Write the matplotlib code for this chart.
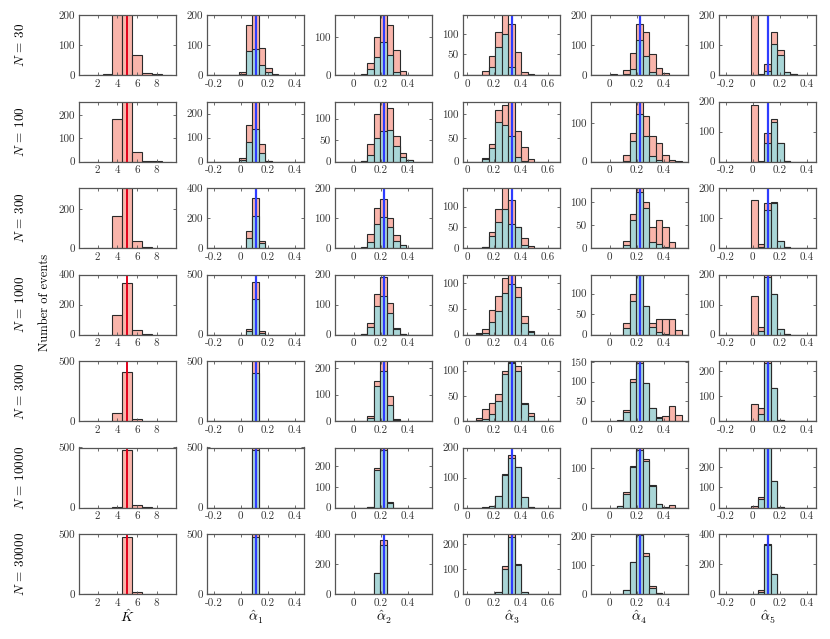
import numpy as np
import matplotlib
matplotlib.use('Agg')
import matplotlib.pyplot as plt
from matplotlib.ticker import MultipleLocator, FuncFormatter

plt.rcParams['font.family'] = 'serif'
plt.rcParams['font.serif'] = ['cmr10']
plt.rcParams['mathtext.fontset'] = 'cm'
plt.rcParams['axes.unicode_minus'] = False

sample_sizes = [30, 100, 300, 1000, 3000, 10000, 30000]
true_K = 5
true_alpha = [0.11, 0.22, 0.33, 0.22, 0.11]
bin_width = 0.048

# estimated K, counts for K = 1..9
K_values = [1, 2, 3, 4, 5, 6, 7, 8, 9]
K_counts = [
    [0, 0, 3, 210, 209, 67, 7, 4, 0],
    [0, 0, 0, 184, 270, 42, 4, 1, 0],
    [0, 0, 0, 165, 305, 35, 3, 0, 0],
    [0, 0, 0, 128, 345, 29, 2, 0, 0],
    [0, 0, 0, 64, 410, 20, 1, 0, 0],
    [0, 0, 0, 5, 478, 17, 1, 0, 0],
    [0, 0, 0, 0, 472, 20, 3, 0, 0],
]

# alpha histograms, 15 bins centred on the true value (bin 7 holds it)
# "all" = every run, "ok" = runs where K was found correctly
alpha1_all = [
    [0, 0, 0, 0, 0, 10, 168, 206, 90, 23, 3, 0, 0, 0, 0],
    [0, 0, 0, 0, 0, 16, 154, 255, 74, 3, 0, 0, 0, 0, 0],
    [0, 0, 0, 0, 0, 3, 116, 334, 50, 0, 0, 0, 0, 0, 0],
    [0, 0, 0, 0, 0, 0, 44, 439, 28, 0, 0, 0, 0, 0, 0],
    [0, 0, 0, 0, 0, 0, 4, 496, 0, 0, 0, 0, 0, 0, 0],
    [0, 0, 0, 0, 0, 0, 0, 498, 0, 0, 0, 0, 0, 0, 0],
    [0, 0, 0, 0, 0, 0, 0, 498, 0, 0, 0, 0, 0, 0, 0],
]
alpha1_ok = [
    [0, 0, 0, 0, 0, 4, 81, 87, 34, 10, 1, 0, 0, 0, 0],
    [0, 0, 0, 0, 0, 8, 83, 134, 37, 2, 0, 0, 0, 0, 0],
    [0, 0, 0, 0, 0, 0, 70, 211, 31, 0, 0, 0, 0, 0, 0],
    [0, 0, 0, 0, 0, 0, 30, 298, 16, 0, 0, 0, 0, 0, 0],
    [0, 0, 0, 0, 0, 0, 3, 400, 0, 0, 0, 0, 0, 0, 0],
    [0, 0, 0, 0, 0, 0, 0, 478, 0, 0, 0, 0, 0, 0, 0],
    [0, 0, 0, 0, 0, 0, 0, 472, 0, 0, 0, 0, 0, 0, 0],
]
alpha2_all = [
    [0, 0, 0, 0, 2, 31, 100, 170, 131, 67, 11, 1, 0, 0, 0],
    [0, 0, 0, 0, 2, 42, 110, 150, 125, 59, 19, 4, 0, 0, 0],
    [0, 0, 0, 0, 2, 48, 134, 164, 101, 45, 9, 0, 0, 0, 0],
    [0, 0, 0, 0, 3, 40, 136, 192, 105, 23, 2, 0, 0, 0, 0],
    [0, 0, 0, 0, 0, 18, 152, 232, 94, 8, 0, 0, 0, 0, 0],
    [0, 0, 0, 0, 0, 4, 190, 295, 25, 0, 0, 0, 0, 0, 0],
    [0, 0, 0, 0, 0, 0, 143, 358, 2, 0, 0, 0, 0, 0, 0],
]
alpha2_ok = [
    [0, 0, 0, 0, 1, 15, 48, 86, 53, 8, 1, 0, 0, 0, 0],
    [0, 0, 0, 0, 1, 16, 56, 72, 74, 36, 10, 3, 0, 0, 0],
    [0, 0, 0, 0, 1, 19, 81, 105, 70, 25, 9, 0, 0, 0, 0],
    [0, 0, 0, 0, 1, 25, 96, 129, 73, 20, 1, 0, 0, 0, 0],
    [0, 0, 0, 0, 0, 13, 132, 190, 60, 3, 0, 0, 0, 0, 0],
    [0, 0, 0, 0, 0, 3, 182, 280, 20, 0, 0, 0, 0, 0, 0],
    [0, 0, 0, 0, 0, 0, 141, 330, 2, 0, 0, 0, 0, 0, 0],
]
alpha3_all = [
    [0, 0, 1, 9, 47, 104, 150, 125, 57, 7, 2, 0, 1, 0, 0],
    [0, 0, 0, 8, 36, 110, 120, 135, 64, 30, 6, 0, 0, 0, 0],
    [0, 0, 0, 3, 39, 95, 166, 115, 50, 25, 6, 1, 0, 0, 0],
    [0, 0, 2, 10, 48, 75, 110, 121, 92, 35, 7, 0, 0, 0, 0],
    [0, 0, 5, 24, 36, 54, 99, 117, 110, 35, 16, 0, 0, 0, 0],
    [0, 0, 0, 2, 6, 39, 112, 175, 134, 34, 3, 0, 0, 0, 0],
    [0, 0, 0, 0, 2, 8, 114, 250, 120, 9, 0, 0, 0, 0, 0],
]
alpha3_ok = [
    [0, 0, 0, 1, 19, 68, 99, 19, 1, 0, 0, 0, 0, 0, 0],
    [0, 0, 0, 6, 28, 84, 78, 53, 10, 2, 0, 0, 0, 0, 0],
    [0, 0, 0, 2, 30, 64, 95, 59, 50, 8, 0, 0, 0, 0, 0],
    [0, 0, 1, 2, 24, 45, 80, 97, 72, 22, 5, 0, 0, 0, 0],
    [0, 0, 1, 3, 14, 39, 93, 116, 99, 34, 10, 0, 0, 0, 0],
    [0, 0, 0, 0, 5, 37, 110, 164, 134, 34, 3, 0, 0, 0, 0],
    [0, 0, 0, 0, 2, 8, 100, 230, 115, 9, 0, 0, 0, 0, 0],
]
alpha4_all = [
    [0, 0, 0, 3, 1, 16, 73, 169, 145, 70, 23, 6, 0, 0, 0],
    [0, 0, 0, 0, 0, 16, 74, 160, 117, 67, 49, 16, 3, 1, 0],
    [0, 0, 0, 0, 0, 16, 73, 144, 100, 46, 61, 45, 14, 0, 0],
    [0, 0, 0, 0, 0, 29, 100, 148, 71, 27, 37, 39, 37, 12, 0],
    [0, 0, 0, 0, 2, 29, 106, 152, 96, 32, 9, 12, 37, 14, 0],
    [0, 0, 0, 0, 4, 39, 104, 155, 122, 56, 9, 2, 7, 0, 0],
    [0, 0, 0, 0, 0, 13, 110, 210, 141, 29, 2, 0, 0, 0, 0],
]
alpha4_ok = [
    [0, 0, 0, 0, 0, 2, 19, 118, 64, 10, 0, 0, 0, 0, 0],
    [0, 0, 0, 0, 0, 2, 54, 123, 65, 14, 5, 0, 0, 0, 0],
    [0, 0, 0, 0, 0, 6, 60, 121, 87, 14, 9, 2, 0, 0, 0],
    [0, 0, 0, 0, 0, 17, 82, 145, 71, 19, 6, 2, 0, 0, 0],
    [0, 0, 0, 0, 1, 22, 99, 146, 96, 32, 7, 0, 0, 0, 0],
    [0, 0, 0, 0, 4, 35, 102, 146, 117, 54, 9, 0, 0, 0, 0],
    [0, 0, 0, 0, 0, 13, 110, 205, 131, 20, 2, 0, 0, 0, 0],
]
alpha5_all = [
    [0, 0, 0, 0, 0, 225, 4, 36, 142, 82, 10, 3, 0, 0, 0],
    [0, 0, 0, 0, 0, 189, 3, 96, 142, 63, 2, 0, 0, 0, 0],
    [0, 0, 0, 0, 0, 160, 13, 150, 154, 23, 2, 0, 0, 0, 0],
    [0, 0, 0, 0, 0, 127, 24, 205, 134, 18, 1, 0, 0, 0, 0],
    [0, 0, 0, 0, 0, 68, 51, 245, 132, 6, 0, 0, 0, 0, 0],
    [0, 0, 0, 0, 0, 8, 52, 305, 133, 3, 0, 0, 0, 0, 0],
    [0, 0, 0, 0, 0, 2, 27, 333, 134, 0, 0, 0, 0, 0, 0],
]
alpha5_ok = [
    [0, 0, 0, 0, 0, 0, 0, 12, 105, 67, 10, 3, 0, 0, 0],
    [0, 0, 0, 0, 0, 0, 0, 62, 133, 63, 2, 0, 0, 0, 0],
    [0, 0, 0, 0, 0, 0, 5, 127, 150, 23, 2, 0, 0, 0, 0],
    [0, 0, 0, 0, 0, 0, 11, 193, 134, 18, 1, 0, 0, 0, 0],
    [0, 0, 0, 0, 0, 0, 28, 234, 132, 6, 0, 0, 0, 0, 0],
    [0, 0, 0, 0, 0, 0, 44, 296, 133, 3, 0, 0, 0, 0, 0],
    [0, 0, 0, 0, 0, 0, 16, 328, 134, 0, 0, 0, 0, 0, 0],
]

alpha_all = [alpha1_all, alpha2_all, alpha3_all, alpha4_all, alpha5_all]
alpha_ok = [alpha1_ok, alpha2_ok, alpha3_ok, alpha4_ok, alpha5_ok]

# y-axis top and tick step per panel (rows = N, cols = K, a1..a5)
ylim_top = [
    [200, 200, 158, 146, 200, 200],
    [257, 250, 140, 127, 155, 200],
    [306, 400, 200, 145, 130, 200],
    [400, 500, 200, 116, 147, 200],
    [500, 500, 228, 119, 152, 240],
    [500, 500, 292, 200, 152, 298],
    [500, 500, 400, 240, 207, 400],
]
ytick_step = [
    [100, 100, 100, 50, 100, 100],
    [100, 100, 50, 50, 100, 100],
    [200, 200, 100, 50, 50, 100],
    [200, 500, 100, 50, 50, 100],
    [500, 500, 100, 50, 50, 100],
    [500, 500, 100, 100, 100, 100],
    [500, 500, 200, 100, 100, 200],
]
xticks_cols = [
    [2, 4, 6, 8],
    [-0.2, 0, 0.2, 0.4],
    [0, 0.2, 0.4],
    [0, 0.2, 0.4, 0.6],
    [0, 0.2, 0.4],
    [-0.2, 0, 0.2, 0.4],
]
xlabels = [r'$\hat{K}$', r'$\hat{\alpha}_1$', r'$\hat{\alpha}_2$',
           r'$\hat{\alpha}_3$', r'$\hat{\alpha}_4$', r'$\hat{\alpha}_5$']

salmon = '#f9b5ab'
teal = '#a9d6d7'
edge = '#2a2a2a'

W, H = 830, 639
fig = plt.figure(figsize=(W / 100, H / 100), dpi=100)

fmt = FuncFormatter(lambda v, p: '%g' % round(v, 6))

for r in range(7):
    for c in range(6):
        left = 79 + 128 * c
        top = 15 + 86.5 * r
        ax = fig.add_axes([left / W, 1 - (top + 60) / H, 97 / W, 60 / H])
        if c == 0:
            ax.bar(K_values, K_counts[r], width=1, color=salmon,
                   edgecolor=edge, linewidth=0.8)
            ax.axvline(true_K, color='#e3001b', lw=1.4)
            ax.set_xlim(0.1, 9.95)
        else:
            a = true_alpha[c - 1]
            edges = a - 0.36 + bin_width * np.arange(16)
            ax.bar(edges[:-1], alpha_all[c - 1][r], width=bin_width, align='edge',
                   color=salmon, edgecolor=edge, linewidth=0.8)
            ax.bar(edges[:-1], alpha_ok[c - 1][r], width=bin_width, align='edge',
                   color=teal, edgecolor=edge, linewidth=0.8)
            ax.axvline(a, color='#2e3cff', lw=1.6)
            ax.set_xlim(a - 0.36, a + 0.36)
        ax.set_ylim(0, ylim_top[r][c])
        ax.yaxis.set_major_locator(MultipleLocator(ytick_step[r][c]))
        ax.set_xticks(xticks_cols[c])
        ax.xaxis.set_major_formatter(fmt)
        ax.tick_params(direction='in', length=2.5, width=0.6, top=True, right=True,
                       labelsize=8, colors='#555555', labelcolor='#333333', pad=3)
        for s in ax.spines.values():
            s.set_color('#555555')
            s.set_linewidth(0.9)
        if r == 6:
            fig.text((left + 48.5) / W, 1 - 617 / H, xlabels[c],
                     ha='center', va='center', fontsize=10)
    fig.text(20 / W, 1 - (15 + 86.5 * r + 30) / H, r'$N$ = %d' % sample_sizes[r],
             rotation=90, ha='center', va='center', fontsize=9.5)

fig.text(45 / W, 1 - 302 / H, 'Number of events', rotation=90,
         ha='center', va='center', fontsize=9)

fig.savefig('out.png', dpi=100)
